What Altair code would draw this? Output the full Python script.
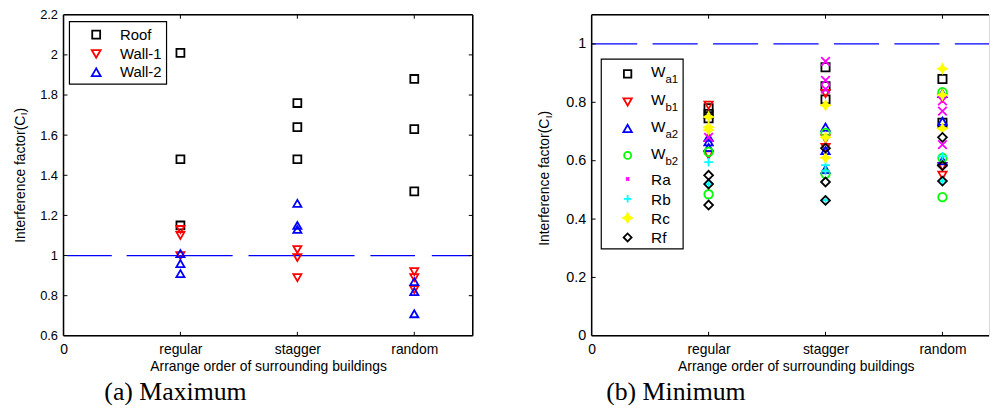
import altair as alt
import pandas as pd

# ---------------- data ----------------
ARRANGEMENTS = ["regular", "stagger", "random"]          # x positions 1, 2, 3
X_TICK_VALUES = [0, 1, 2, 3]
X_TICK_LABELS = ["0", "regular", "stagger", "random"]
X_TITLE = "Arrange order of surrounding buildings"
Y_TITLE = ["Interference factor(C", "I", ")"]
CAPTIONS = ["(a) Maximum", "(b) Minimum"]
REFERENCE_LEVEL = [1.0]

# (a) Maximum  -- values per arrangement (regular, stagger, random)
MAX_SERIES = ["Roof", "Wall-1", "Wall-2"]
ROOF = [[2.01, 1.48, 1.15], [1.76, 1.64, 1.48], [1.88, 1.63, 1.32]]
WALL_1 = [[1.13, 1.10, 1.00], [1.03, 0.99, 0.89], [0.92, 0.89, 0.83]]
WALL_2 = [[1.01, 0.96, 0.91], [1.26, 1.15, 1.13], [0.87, 0.82, 0.71]]
MAX_Y_TICKS = [0.6, 0.8, 1.0, 1.2, 1.4, 1.6, 1.8, 2.0, 2.2]

# (b) Minimum
MIN_SERIES = ["Wa1", "Wb1", "Wa2", "Wb2", "Ra", "Rb", "Rc", "Rf"]
MIN_LEGEND_MAIN = ["W", "W", "W", "W", "Ra", "Rb", "Rc", "Rf"]
MIN_LEGEND_SUB = ["a1", "b1", "a2", "b2", "", "", "", ""]
W_A1 = [[0.78, 0.76, 0.745], [0.92, 0.855, 0.81], [0.88, 0.73]]
W_B1 = [[0.79, 0.62], [0.83, 0.675, 0.645], [0.815, 0.58, 0.55]]
W_A2 = [[0.68, 0.665, 0.645], [0.715, 0.635, 0.57], [0.83, 0.735, 0.60]]
W_B2 = [[0.63, 0.485], [0.695, 0.555], [0.835, 0.61, 0.475]]
R_A = [[0.68], [0.94, 0.875, 0.845], [0.805, 0.77, 0.655]]
R_B = [[0.595, 0.52], [0.585, 0.565, 0.465], [0.615, 0.53]]
R_C = [[0.75, 0.715, 0.705], [0.79, 0.68, 0.61], [0.915, 0.825, 0.71]]
R_F = [[0.55, 0.52, 0.448], [0.643, 0.527, 0.464], [0.68, 0.583, 0.53]]
MIN_Y_TICKS = [0, 0.2, 0.4, 0.6, 0.8, 1.0]


def long_table(names, groups_list):
    rows = []
    for name, groups in zip(names, groups_list):
        for i, vals in enumerate(groups):
            for v in vals:
                rows.append({"series": name, "pos": i + 1, "arr": ARRANGEMENTS[i], "val": v})
    return pd.DataFrame(rows)


max_df = long_table(MAX_SERIES, [ROOF, WALL_1, WALL_2])
min_df = long_table(MIN_SERIES, [W_A1, W_B1, W_A2, W_B2, R_A, R_B, R_C, R_F])

# ---------------- styles ----------------
FONT = "Liberation Sans"
SERIF = "Liberation Serif"
X_PATH = "M-1,-1L1,1M-1,1L1,-1"
PLUS_PATH = "M-1,0L1,0M0,-1L0,1"
STAR_PATH = "M0,-1L0.35,-0.35L1,0L0.35,0.35L0,1L-0.35,0.35L-1,0L-0.35,-0.35Z"

MAX_STYLE = {
    "shape": ["square", "triangle-down", "triangle-up"],
    "stroke": ["#000000", "#ff0000", "#0000ff"],
    "fill": ["transparent", "transparent", "transparent"],
    "size": [64, 80, 80],
}
MIN_STYLE = {
    "shape": ["square", "triangle-down", "triangle-up", "circle", X_PATH, PLUS_PATH, STAR_PATH, "diamond"],
    "stroke": ["#000000", "#ff0000", "#0000ff", "#00ff00", "#ff00ff", "#00ffff", "#ffff00", "#000000"],
    "fill": ["transparent"] * 6 + ["#ffff00", "transparent"],
    "size": [56, 72, 72, 50, 10, 56, 80, 64],
}
ALL_NAMES = MAX_SERIES + MIN_SERIES
ALL_STYLE = {k: MAX_STYLE[k] + MIN_STYLE[k] for k in MAX_STYLE}

H = 324
W_L = 413
PX_PER_UNIT = W_L / 3.5
W_R = 401
ONE = pd.DataFrame({"k": [0]})
MARK_W = 1.8


def rule(x, x2, y, y2, color="black", width=1.5):
    return alt.Chart(ONE).mark_rule(stroke=color, strokeWidth=width).encode(
        x=alt.value(x), x2=alt.value(x2), y=alt.value(y), y2=alt.value(y2))


def text_layer(s, x, y, size=14, font=FONT, align="left", baseline="middle", angle=None, dx=0, dy=0):
    kw = dict(font=font, fontSize=size, align=align, baseline=baseline, color="black", dx=dx, dy=dy)
    if angle is not None:
        kw["angle"] = angle
    return alt.Chart(pd.DataFrame({"t": [s]})).mark_text(**kw).encode(
        x=alt.value(x), y=alt.value(y), text="t:N")


def y_title(xc, yc):
    main_w, sub_w = 128.4, 3.2
    start = yc + (main_w + sub_w + 4.7) / 2
    return [
        text_layer(Y_TITLE[0], xc, start, 14, angle=270),
        text_layer(Y_TITLE[1], xc, start, 10, angle=270, dx=main_w + 0.3, dy=3.5),
        text_layer(Y_TITLE[2], xc, start, 14, angle=270, dx=main_w + sub_w),
    ]


def x_axis(title_x=None):
    expr = "[" + ",".join("'%s'" % s for s in X_TICK_LABELS) + "][datum.value]"
    kw = dict(values=X_TICK_VALUES, labelExpr=expr, ticks=False, tickSize=0, domain=False, grid=False,
              labelFlush=False, labelOverlap=False, labelPadding=7, labelFontSize=14, labelFont=FONT,
              labelColor="black", title=X_TITLE, titleFont=FONT, titleFontSize=14,
              titleFontWeight="normal", titleColor="black", titlePadding=3)
    if title_x is not None:
        kw["titleX"] = title_x
        kw["titleAlign"] = "center"
    return alt.Axis(**kw)


def y_axis(values, size):
    return alt.Axis(values=values, format="~g", ticks=False, tickSize=0, domain=False, grid=False,
                    labelFlush=False, labelOverlap=False, labelPadding=6, labelFontSize=size,
                    labelFont=FONT, labelColor="black", title=None)


def points(df, xs, ys, xaxis, yaxis):
    return alt.Chart(df).mark_point(filled=False, strokeWidth=MARK_W, opacity=1).encode(
        x=alt.X("pos:Q", scale=xs, axis=xaxis),
        y=alt.Y("val:Q", scale=ys, axis=yaxis),
        shape=alt.Shape("series:N", scale=alt.Scale(domain=ALL_NAMES, range=ALL_STYLE["shape"]), legend=None),
        stroke=alt.Stroke("series:N", scale=alt.Scale(domain=ALL_NAMES, range=ALL_STYLE["stroke"]), legend=None),
        fill=alt.Fill("series:N", scale=alt.Scale(domain=ALL_NAMES, range=ALL_STYLE["fill"]), legend=None),
        size=alt.Size("series:N", scale=alt.Scale(domain=ALL_NAMES, range=ALL_STYLE["size"]), legend=None),
    )


def tick_rules(values, ys, yaxis, w, both=True, ticklen=4):
    d = pd.DataFrame({"val": values})
    base = alt.Chart(d).mark_rule(stroke="black", strokeWidth=1)
    out = [base.encode(y=alt.Y("val:Q", scale=ys, axis=yaxis), x=alt.value(0), x2=alt.value(ticklen))]
    if both:
        out.append(base.encode(y=alt.Y("val:Q", scale=ys, axis=yaxis), x=alt.value(w - ticklen), x2=alt.value(w)))
    return out


def xtick_rules(xs, xaxis, ticklen=4):
    d = pd.DataFrame({"pos": X_TICK_VALUES[1:]})
    base = alt.Chart(d).mark_rule(stroke="black", strokeWidth=1)
    return [
        base.encode(x=alt.X("pos:Q", scale=xs, axis=xaxis), y=alt.value(0), y2=alt.value(ticklen)),
        base.encode(x=alt.X("pos:Q", scale=xs, axis=xaxis), y=alt.value(H - ticklen), y2=alt.value(H)),
    ]


def ref_line(ys, yaxis, x0, x1, dash):
    d = pd.DataFrame({"val": REFERENCE_LEVEL})
    return alt.Chart(d).mark_rule(stroke="#0000ff", strokeWidth=1.2, strokeDash=dash, opacity=1).encode(
        y=alt.Y("val:Q", scale=ys, axis=yaxis), x=alt.value(x0), x2=alt.value(x1))


def legend_marker(x, y, style, i):
    return alt.Chart(ONE).mark_point(filled=False, strokeWidth=MARK_W, opacity=1).encode(
        x=alt.value(x), y=alt.value(y), shape=alt.value(style["shape"][i]),
        stroke=alt.value(style["stroke"][i]), fill=alt.value(style["fill"][i]),
        size=alt.value(style["size"][i]))


def legend_box(x0, x1, y0, y1):
    return alt.Chart(ONE).mark_rect(fill="white", stroke="black", strokeWidth=1.2).encode(
        x=alt.value(x0), x2=alt.value(x1), y=alt.value(y0), y2=alt.value(y1))


# ---------------- left panel: maximum ----------------
xs_l = alt.Scale(domain=[0, 3.5], nice=False, zero=False)
ys_l = alt.Scale(domain=[0.6, 2.2], nice=False, zero=False)
xa_l = x_axis()
ya_l = y_axis(MAX_Y_TICKS, 13)

left_layers = []
left_layers.append(ref_line(ys_l, ya_l, 3.7, W_L - 2, [45, 15, 107, 16, 107, 16, 45, 17, 60]))
left_layers.append(points(max_df, xs_l, ys_l, xa_l, ya_l))
left_layers += tick_rules(MAX_Y_TICKS[1:-1], ys_l, ya_l, W_L)
left_layers += xtick_rules(xs_l, xa_l)
left_layers += [rule(0, W_L, 0, 0), rule(0, W_L, H, H), rule(0, 0, 0, H), rule(W_L, W_L, 0, H)]
left_layers.append(legend_box(6, 104, 7, 70))
for i, name in enumerate(MAX_SERIES):
    yy = [20, 39.5, 58][i]
    left_layers.append(legend_marker(33, yy, MAX_STYLE, i))
    left_layers.append(text_layer(name, 57, yy, 15))
left_layers += y_title(-43, 162)
left_layers.append(text_layer(CAPTIONS[0], 113, 389, 26, font=SERIF, align="center", baseline="alphabetic"))

left = alt.layer(*left_layers).properties(width=W_L, height=H)

# ---------------- right panel: minimum ----------------
xs_r = alt.Scale(domain=[0, W_R / PX_PER_UNIT], nice=False, zero=False)
ys_r = alt.Scale(domain=[0, 1.1], nice=False, zero=False)
xa_r = x_axis(title_x=206)
ya_r = y_axis(MIN_Y_TICKS, 14.5)

right_layers = []
right_layers.append(ref_line(ys_r, ya_r, 0.5, W_R, [45.5, 15.5]))
right_layers.append(points(min_df, xs_r, ys_r, xa_r, ya_r))
right_layers += tick_rules(MIN_Y_TICKS[1:], ys_r, ya_r, W_R, both=False)
right_layers += xtick_rules(xs_r, xa_r)
right_layers += [rule(0, W_R, 0, 0), rule(0, W_R, H, H), rule(0, 0, 0, H)]
right_layers.append(legend_box(9.7, 92.3, 44.7, 236.3))
rows_y = [59.7, 88, 114.7, 142, 165.7, 185.7, 205, 224.7]
for i, name in enumerate(MIN_SERIES):
    yy = rows_y[i]
    right_layers.append(legend_marker(36.3, yy, MIN_STYLE, i))
    if MIN_LEGEND_SUB[i]:
        right_layers.append(text_layer(MIN_LEGEND_MAIN[i], 60, yy - 1.7, 15.5))
        right_layers.append(text_layer(MIN_LEGEND_SUB[i], 74.5, yy + 6.5, 11.5))
    else:
        right_layers.append(text_layer(MIN_LEGEND_MAIN[i], 60, yy + 1, 15.5))
right_layers += y_title(-47, 165)
right_layers.append(text_layer(CAPTIONS[1], 85, 389, 26, font=SERIF, align="center", baseline="alphabetic"))

right = alt.layer(*right_layers).properties(width=W_R, height=H)

chart = alt.hconcat(left, right, spacing=120, bounds="flush").properties(
    padding={"left": 5, "top": -2, "right": 0, "bottom": -3}
).configure_view(stroke=None).configure(font=FONT, background="white")

chart.save("out.html", embed_options={"renderer": "svg", "actions": False})
